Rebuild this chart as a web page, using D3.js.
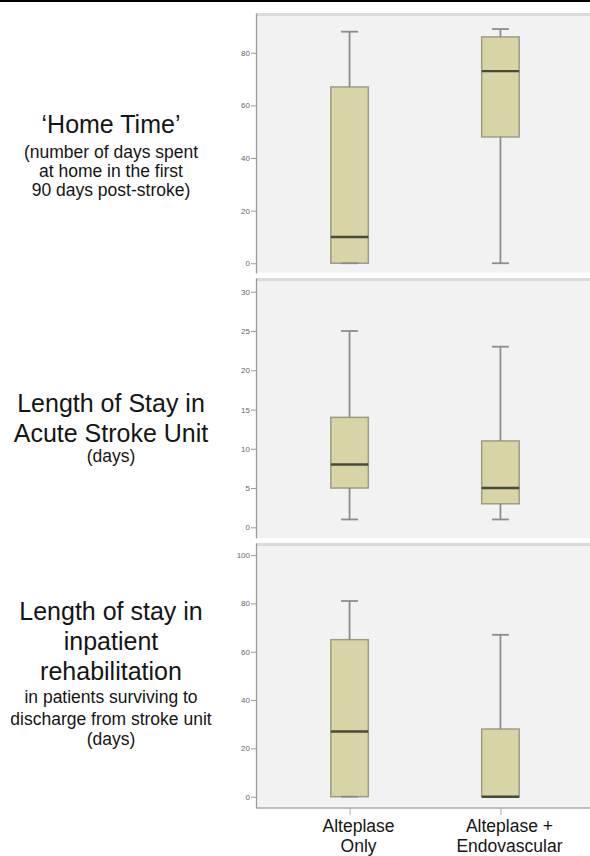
<!DOCTYPE html>
<html>
<head>
<meta charset="utf-8">
<script src="https://cdn.jsdelivr.net/npm/d3@7"></script>
<style>
  html, body { margin: 0; padding: 0; background: #fff; }
  svg { display: block; }
</style>
</head>
<body>
<script>
// Treatment groups shown on the shared x axis
const categories = ["Alteplase Only", "Alteplase + Endovascular"];
const categoryLabels = [["Alteplase", "Only"], ["Alteplase +", "Endovascular"]];

// Box-plot summaries per group: [min, Q1, median, Q3, max]
const homeTime = [[0, 0, 10, 67, 88], [0, 48, 73, 86, 89]];
const strokeUnitStay = [[1, 5, 8, 14, 25], [1, 3, 5, 11, 23]];
const rehabStay = [[0, 0, 27, 65, 81], [0, 0, 0, 28, 67]];

// Y-axis tick values per panel
const homeTimeTicks = [0, 20, 40, 60, 80];
const strokeUnitTicks = [0, 5, 10, 15, 20, 25, 30];
const rehabTicks = [0, 20, 40, 60, 80, 100];

// Row titles (text, size class)
const homeTimeTitle = [["‘Home Time’", "big"], ["(number of days spent", "small"], ["at home in the first", "small"], ["90 days post-stroke)", "small"]];
const strokeUnitTitle = [["Length of Stay in", "big"], ["Acute Stroke Unit", "big"], ["(days)", "small"]];
const rehabTitle = [["Length of stay in", "big"], ["inpatient", "big"], ["rehabilitation", "big"], ["in patients surviving to", "small"], ["discharge from stroke unit", "small"], ["(days)", "small"]];

const W = 590, H = 856;
const plotLeft = 256, plotRight = 594;
const titleX = 111;

const panels = [
  { stats: homeTime, ticks: homeTimeTicks, title: homeTimeTitle, top: 13, bottom: 273, domain: [-3.7, 95.1], baselines: [133, 158, 177, 196] },
  { stats: strokeUnitStay, ticks: strokeUnitTicks, title: strokeUnitTitle, top: 278, bottom: 538, domain: [-1.36, 31.75], baselines: [411.5, 441.5, 462] },
  { stats: rehabStay, ticks: rehabTicks, title: rehabTitle, top: 543, bottom: 808, domain: [-4.68, 105], baselines: [620, 650, 680, 703, 725, 745] }
];

const svg = d3.select("body").append("svg").attr("width", W).attr("height", H);

// Rule across the top of the figure
svg.append("rect").attr("x", 0).attr("y", 0).attr("width", W).attr("height", 2).attr("fill", "#000");

const x = d3.scalePoint().domain(categories).range([plotLeft, plotRight]).padding(0.62);
const boxW = 37.5, capW = 17;
const font = "'Liberation Sans', Arial, sans-serif";

panels.forEach((p, i) => {
  const y = d3.scaleLinear().domain(p.domain).range([p.bottom, p.top]);
  const g = svg.append("g");

  // Plot background and frame
  g.append("rect").attr("x", plotLeft).attr("y", p.top).attr("width", W - plotLeft).attr("height", p.bottom - p.top)
    .attr("fill", "#f2f2f2");
  g.append("rect").attr("x", plotLeft).attr("y", p.top).attr("width", W - plotLeft).attr("height", 3)
    .attr("fill", "#dadada");

  // Y axis
  const axis = g.append("g").attr("transform", `translate(${plotLeft},0)`)
    .call(d3.axisLeft(y).tickValues(p.ticks).tickSize(5).tickPadding(1).tickSizeOuter(0));
  axis.select(".domain").attr("stroke", "#9a9a9a").attr("stroke-width", 1.3);
  axis.selectAll(".tick line").attr("stroke", "#9a9a9a");
  axis.selectAll(".tick text").attr("fill", "#666").style("font", `8px ${font}`);

  // Boxes
  p.stats.forEach((s, j) => {
    const cx = x(categories[j]);
    const [mn, q1, med, q3, mx] = s;
    const wh = g.append("g").attr("stroke", "#8c8c8c").attr("stroke-width", 1.8);
    wh.append("line").attr("x1", cx).attr("x2", cx).attr("y1", y(q3)).attr("y2", y(mx));
    wh.append("line").attr("x1", cx).attr("x2", cx).attr("y1", y(q1)).attr("y2", y(mn));
    g.append("rect").attr("x", cx - boxW / 2).attr("y", y(q3)).attr("width", boxW).attr("height", y(q1) - y(q3))
      .attr("fill", "#d8d4a6").attr("stroke", "#9d9c86").attr("stroke-width", 1.5);
    wh.raise();
    wh.append("line").attr("x1", cx - capW / 2).attr("x2", cx + capW / 2).attr("y1", y(mx)).attr("y2", y(mx));
    wh.append("line").attr("x1", cx - capW / 2).attr("x2", cx + capW / 2).attr("y1", y(mn)).attr("y2", y(mn));
    g.append("line").attr("x1", cx - boxW / 2).attr("x2", cx + boxW / 2).attr("y1", y(med)).attr("y2", y(med))
      .attr("stroke", "#4a4a38").attr("stroke-width", 2.4);
  });

  // Row title
  p.title.forEach(([t, cls], k) => {
    svg.append("text").attr("x", titleX).attr("y", p.baselines[k]).attr("text-anchor", "middle")
      .attr("fill", "#151515")
      .style("font", `${cls === "big" ? 25 : 17.5}px ${font}`)
      .text(t);
  });

  // Shared x axis under the last panel
  if (i === panels.length - 1) {
    const xa = svg.append("g").attr("transform", `translate(0,${p.bottom})`)
      .call(d3.axisBottom(x).tickSize(7).tickFormat(""));
    xa.select(".domain").attr("stroke", "#aaa").attr("stroke-width", 1.5)
      .attr("d", `M${plotLeft},0H${W}`);
    xa.selectAll(".tick line").attr("stroke", "#aaa");
    categories.forEach((c, j) => {
      categoryLabels[j].forEach((t, k) => {
        svg.append("text").attr("x", x(c) + 9).attr("y", 832 + k * 20).attr("text-anchor", "middle")
          .attr("fill", "#151515").style("font", `17.5px ${font}`).text(t);
      });
    });
  }
});
</script>
</body>
</html>
